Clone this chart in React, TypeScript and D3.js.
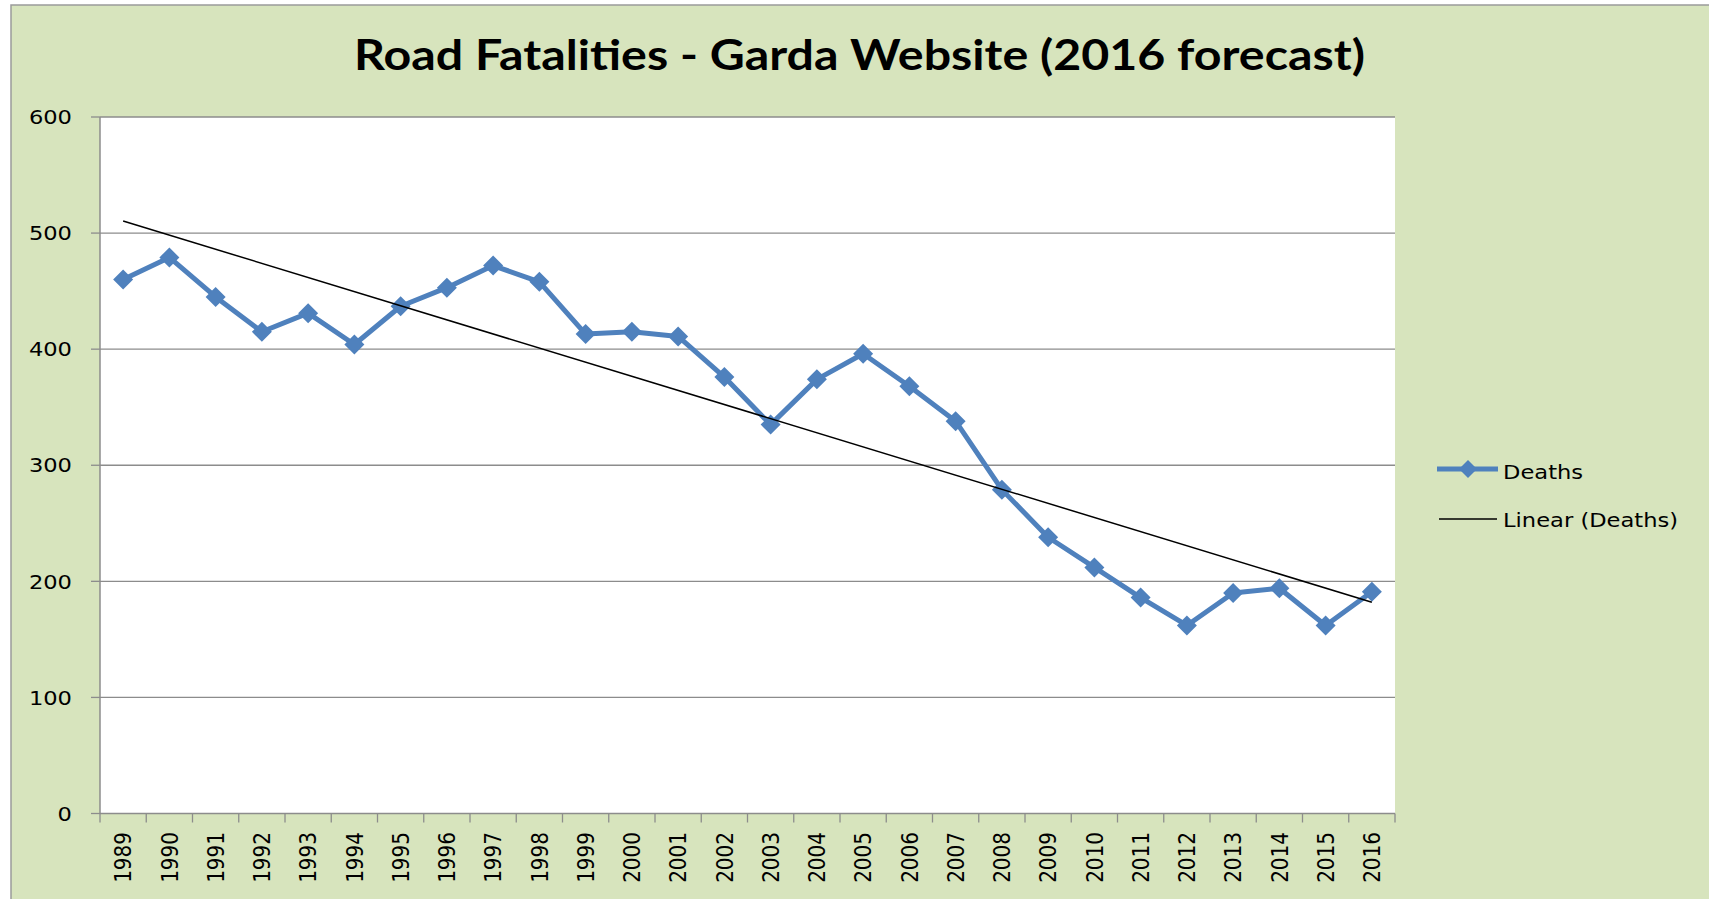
import React from "react";
import * as d3 from "d3";

const years = [
  "1989","1990","1991","1992","1993","1994","1995","1996","1997","1998",
  "1999","2000","2001","2002","2003","2004","2005","2006","2007","2008",
  "2009","2010","2011","2012","2013","2014","2015","2016",
];
const deaths = [
  460, 479, 445, 415, 431, 404, 437, 453, 472, 458,
  413, 415, 411, 376, 335, 374, 396, 368, 338, 279,
  238, 212, 186, 162, 190, 194, 162, 191,
];
const yTicks = [0, 100, 200, 300, 400, 500, 600];
const titleText = "Road Fatalities - Garda Website (2016 forecast)";
const legendLabels = ["Deaths", "Linear (Deaths)"];

const W = 1709;
const H = 899;
const M = { left: 100, right: 1395, top: 117, bottom: 813.5 };
const BG = "#D7E4BD";
const BLUE = "#4F81BD";
const GRID = "#8C8C8C";
const SX = 1.13;

function diamond(cx: number, cy: number, r: number) {
  return `M${cx},${cy - r}L${cx + r},${cy}L${cx},${cy + r}L${cx - r},${cy}Z`;
}

export default function App() {
  const x = d3.scaleBand<string>().domain(years).range([M.left, M.right]);
  const y = d3.scaleLinear().domain([0, 600]).range([M.bottom, M.top]);
  const cx = (yr: string) => (x(yr) as number) + x.bandwidth() / 2;

  const line = d3
    .line<number>()
    .x((_, i) => cx(years[i]))
    .y((d) => y(d));

  // linear regression trendline
  const n = deaths.length;
  const idx = deaths.map((_, i) => i);
  const mx = d3.mean(idx) as number;
  const my = d3.mean(deaths) as number;
  let sxy = 0, sxx = 0;
  idx.forEach((i) => {
    sxy += (i - mx) * (deaths[i] - my);
    sxx += (i - mx) * (i - mx);
  });
  const slope = sxy / sxx;
  const icpt = my - slope * mx;
  const t0 = icpt;
  const t1 = icpt + slope * (n - 1);

  const font = "'DejaVu Sans', Verdana, sans-serif";

  return (
    <svg
      width={W}
      height={H}
      style={{ position: "absolute", left: 0, top: 0, display: "block" }}
    >
      <rect x={0} y={0} width={W} height={H} fill="#ffffff" />
      <rect x={11} y={5} width={W} height={H} fill={BG} stroke="#9A9A9A" strokeWidth={1.5} />
      <text
        x={859.5}
        y={70}
        textAnchor="middle"
        fontFamily="Lato, 'Open Sans', sans-serif"
        fontWeight="bold"
        fontSize={42}
        fill="#000"
        textLength={1011}
        lengthAdjust="spacingAndGlyphs"
      >
        {titleText}
      </text>

      {/* plot area */}
      <rect x={M.left} y={M.top} width={M.right - M.left} height={M.bottom - M.top} fill="#fff" />

      {/* gridlines and y ticks */}
      {yTicks.map((t) => (
        <g key={t}>
          {t > 0 && (
            <line x1={M.left} x2={M.right} y1={y(t)} y2={y(t)} stroke={GRID} strokeWidth={1.3} />
          )}
          <line x1={M.left - 9} x2={M.left} y1={y(t)} y2={y(t)} stroke={GRID} strokeWidth={1.3} />
          <text
            transform={`translate(72,${y(t)}) scale(${SX},1)`}
            dy="0.36em"
            textAnchor="end"
            fontFamily={font}
            fontSize={20}
            fill="#000"
          >
            {t}
          </text>
        </g>
      ))}

      {/* axes */}
      <line x1={M.left} x2={M.left} y1={M.top} y2={M.bottom} stroke={GRID} strokeWidth={1.5} />
      <line x1={M.left} x2={M.right} y1={M.bottom} y2={M.bottom} stroke={GRID} strokeWidth={1.5} />
      {years.map((yr) => (
        <line
          key={"t" + yr}
          x1={x(yr) as number}
          x2={x(yr) as number}
          y1={M.bottom}
          y2={M.bottom + 9}
          stroke={GRID}
          strokeWidth={1.3}
        />
      ))}
      <line x1={M.right} x2={M.right} y1={M.bottom} y2={M.bottom + 9} stroke={GRID} strokeWidth={1.3} />

      {years.map((yr) => (
        <text
          key={"l" + yr}
          transform={`translate(${cx(yr)},832) scale(${SX},1) rotate(-90)`}
          dy="0.36em"
          textAnchor="end"
          fontFamily={font}
          fontSize={20}
          fill="#000"
        >
          {yr}
        </text>
      ))}

      {/* data line */}
      <path d={line(deaths) as string} fill="none" stroke={BLUE} strokeWidth={5} strokeLinejoin="round" />
      {deaths.map((d, i) => (
        <path key={"m" + i} d={diamond(cx(years[i]), y(d), 10)} fill={BLUE} />
      ))}

      {/* trendline */}
      <line
        x1={cx(years[0])}
        x2={cx(years[n - 1])}
        y1={y(t0)}
        y2={y(t1)}
        stroke="#000"
        strokeWidth={1.5}
      />

      {/* legend */}
      <line x1={1437} x2={1498} y1={469} y2={469} stroke={BLUE} strokeWidth={5} />
      <path d={diamond(1468, 469, 9)} fill={BLUE} />
      <text
        transform={`translate(1503,479) scale(${SX},1)`}
        fontFamily={font}
        fontSize={20}
        fill="#000"
      >
        {legendLabels[0]}
      </text>
      <line x1={1439} x2={1497} y1={519} y2={519} stroke="#000" strokeWidth={1.5} />
      <text
        transform={`translate(1503,527) scale(${SX},1)`}
        fontFamily={font}
        fontSize={20}
        fill="#000"
      >
        {legendLabels[1]}
      </text>
    </svg>
  );
}
